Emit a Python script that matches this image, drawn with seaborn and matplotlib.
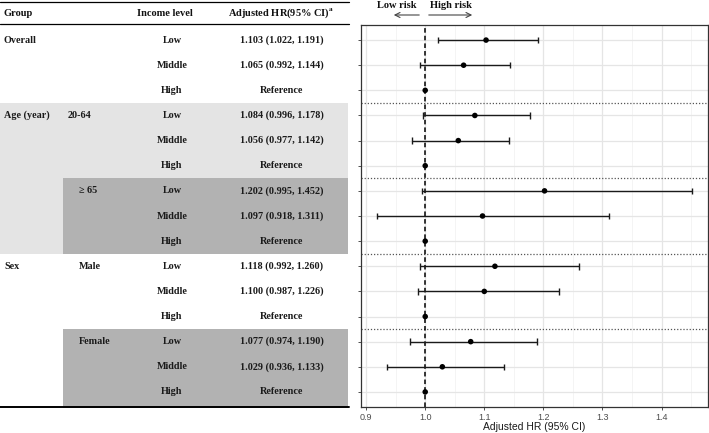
import numpy as np
import pandas as pd
import matplotlib
matplotlib.use("Agg")
import matplotlib.pyplot as plt
import matplotlib.transforms as mtransforms
from matplotlib.patches import Rectangle
import seaborn as sns

# ==========================================
# DATA
# ==========================================
income = ["Low", "Middle", "High"] * 5
hr = [1.103, 1.065, 1.0, 1.084, 1.056, 1.0, 1.202, 1.097, 1.0,
      1.118, 1.100, 1.0, 1.077, 1.029, 1.0]
ci_low = [1.022, 0.992, np.nan, 0.996, 0.977, np.nan, 0.995, 0.918, np.nan,
          0.992, 0.987, np.nan, 0.974, 0.936, np.nan]
ci_high = [1.191, 1.144, np.nan, 1.178, 1.142, np.nan, 1.452, 1.311, np.nan,
           1.260, 1.226, np.nan, 1.190, 1.133, np.nan]
group_labels = ["Overall", "Age (year)", "Sex"]
group_rows = [0, 3, 9]
sub_labels = ["20-64", "\u2265 65", "Male", "Female"]
sub_rows = [3, 6, 9, 12]
x_ticks = [0.9, 1.0, 1.1, 1.2, 1.3, 1.4]

df = pd.DataFrame({"row": np.arange(len(hr)), "income": income, "hr": hr,
                   "lo": ci_low, "hi": ci_high})
df["label"] = [("Reference" if np.isnan(l) else f"{h:.3f} ({l:.3f}, {u:.3f})")
               for h, l, u in zip(df.hr, df.lo, df.hi)]

# ==========================================
# FIGURE
# ==========================================
sns.set_theme(style="white")
plt.rcParams["font.family"] = ["Liberation Sans", "DejaVu Sans"]
W, H = 709, 433
fig = plt.figure(figsize=(W / 100, H / 100), dpi=100)

ax_t = fig.add_axes([0, 0, 1, 1], zorder=0)
ax_t.set_xlim(0, W)
ax_t.set_ylim(H, 0)
ax_t.axis("off")

ax = fig.add_axes([361 / W, (H - 407) / H, 347 / W, 382 / H], zorder=2)
n = len(df)

# grid
for xv in np.arange(0.9, 1.48, 0.05):
    major = abs(round(xv * 10) - xv * 10) < 1e-6
    ax.axvline(xv, color="#e5e5e5" if major else "#f0f0f0",
               lw=0.9 if major else 0.5, zorder=0)
for r in range(n):
    ax.axhline(r, color="#e5e5e5", lw=0.9, zorder=0)
for sep in [2.5, 5.5, 8.5, 11.5]:
    ax.axhline(sep, color="#555555", lw=0.9, ls=(0, (1, 1.5)), zorder=1)
ax.axvline(1.0, color="black", lw=1.1, ls=(0, (3, 2)), zorder=2)

ci = df.dropna()
ax.hlines(ci.row, ci.lo, ci.hi, color="#1a1a1a", lw=1.0, zorder=3)
for x in ["lo", "hi"]:
    ax.vlines(ci[x], ci.row - 0.13, ci.row + 0.13, color="#1a1a1a", lw=1.0, zorder=3)
sns.scatterplot(data=df, x="hr", y="row", color="black", s=16, edgecolor="none",
                ax=ax, zorder=4, legend=False)

ax.set_xlim(0.8913, 1.4787)
ax.set_ylim(n - 1 + 0.6, -0.6)
ax.set_xticks(x_ticks)
ax.set_xticklabels([f"{v:.1f}" for v in x_ticks], fontsize=6.5, color="#4d4d4d")
ax.set_yticks(range(n))
ax.set_yticklabels([])
ax.tick_params(axis="both", which="major", length=2.5, width=0.6, color="#333333",
               left=True, bottom=True, pad=1.5)
ax.set_xlabel("")
ax.set_ylabel("")
for s in ax.spines.values():
    s.set_color("#333333")
    s.set_linewidth(0.9)
ax_t.text(534, 427, "Adjusted HR (95% CI)", fontsize=7.5, ha="center", va="center",
          color="#1a1a1a")

# ==========================================
# TABLE
# ==========================================
tr = mtransforms.blended_transform_factory(ax_t.transData, ax.transData)
serif = ["Liberation Serif", "DejaVu Serif"]
light, dark = "#e4e4e4", "#b2b2b2"

ax_t.add_patch(Rectangle((0, 2.5), 348, 6, transform=tr, color=light, lw=0, zorder=0))
ax_t.add_patch(Rectangle((63, 5.5), 285, 3, transform=tr, color=dark, lw=0, zorder=1))
ax_t.add_patch(Rectangle((63, 11.5), 285, 3.15, transform=tr, color=dark, lw=0, zorder=1))

ax_t.plot([0, 349], [2, 2], color="black", lw=0.9)
ax_t.plot([0, 349], [24, 24], color="black", lw=0.9)
ax_t.plot([0, 349], [407, 407], color="black", lw=1.4)

hdr = dict(family=serif, fontsize=7.5, fontweight="bold", va="center", color="#111111")
ax_t.text(3, 13, "Group", ha="left", **hdr)
ax_t.text(165, 13, "Income level", ha="center", **hdr)
ax_t.text(281, 13, "Adjusted HR(95% CI)$^{\\mathregular{a}}$", ha="center", **hdr)

cell = dict(family=serif, fontsize=7.3, fontweight="bold", va="center", color="#1a1a1a",
            transform=tr)
for lab, r in zip(group_labels, group_rows):
    ax_t.text(4, r, lab, ha="left", **cell)
for lab, r in zip(sub_labels, sub_rows):
    ax_t.text(68 if lab == "20-64" else 79, r, lab, ha="left", **cell)
for _, row in df.iterrows():
    ax_t.text(172, row.row, row.income, ha="center", **cell)
    ax_t.text(282, row.row, row.label, ha="center", **cell)

# risk arrows above the panel
risk = dict(family=serif, fontsize=7.5, fontweight="bold", ha="center", va="center",
            color="#111111")
ax_t.text(397, 5, "Low risk", **risk)
ax_t.text(451, 5, "High risk", **risk)
ax_t.annotate("", xy=(391, 15), xytext=(422, 15),
              arrowprops=dict(arrowstyle="->", color="#444444", lw=0.8,
                              mutation_scale=9))
ax_t.annotate("", xy=(475, 15), xytext=(426, 15),
              arrowprops=dict(arrowstyle="->", color="#444444", lw=0.8,
                              mutation_scale=9))

fig.savefig("out.png", dpi=100)
